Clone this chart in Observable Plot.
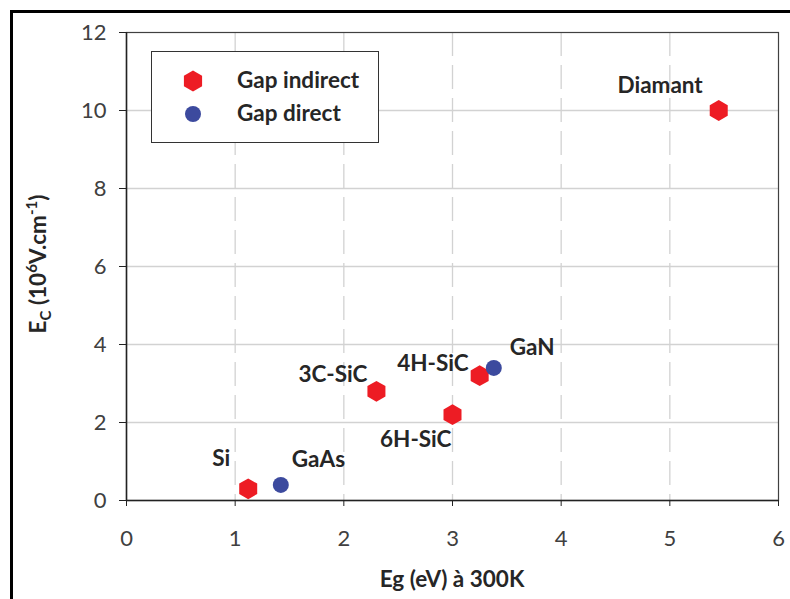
<!DOCTYPE html>
<html><head><meta charset="utf-8">
<script src="https://cdn.jsdelivr.net/npm/d3@7"></script>
<script src="https://cdn.jsdelivr.net/npm/@observablehq/plot@0.6"></script>
<style>
html,body{margin:0;padding:0;background:#fff;}
#wrap{position:relative;width:790px;height:599px;overflow:hidden;font-family:Lato,"Open Sans",sans-serif;}
#border{position:absolute;left:10px;top:10px;width:900px;height:900px;border:3.5px solid #000;box-sizing:border-box;}
#chart{position:absolute;left:0;top:0;}
#legend{position:absolute;left:151px;top:51px;width:228px;height:92px;border:1.3px solid #333;box-sizing:border-box;background:#fff;}
.li{position:absolute;left:0;width:226px;height:24px;font-weight:bold;font-size:22.5px;color:#262626;}
.li svg{position:absolute;left:29px;top:0;}
.li span{position:absolute;left:85px;top:-2px;white-space:nowrap;line-height:26px;}
#ylab{position:absolute;left:38px;top:264px;transform:translate(-50%,-50%) rotate(-90deg);font-weight:bold;font-size:22.5px;color:#262626;white-space:nowrap;}
#ylab sub,#ylab sup{font-size:15px;}
#xlab{position:absolute;left:452px;top:578px;transform:translate(-50%,-50%);font-weight:bold;font-size:22.5px;color:#262626;white-space:nowrap;}
</style></head>
<body><div id="wrap"><div id="border"></div><div id="chart"></div>
<div id="legend"></div>
<div id="ylab">E<sub>C</sub> (10<sup>6</sup>V.cm<sup>-1</sup>)</div>
<div id="xlab">Eg (eV) à 300K</div>
</div>
<script>
// Data
const materials = ["Si", "GaAs", "3C-SiC", "6H-SiC", "4H-SiC", "GaN", "Diamant"];
const gapEnergy = [1.12, 1.42, 2.3, 3.0, 3.25, 3.38, 5.45];
const criticalField = [0.3, 0.4, 2.8, 2.2, 3.2, 3.4, 10];
const gapType = ["indirect", "direct", "indirect", "indirect", "indirect", "direct", "indirect"];
const seriesNames = ["Gap indirect", "Gap direct"];
const xTicks = [0, 1, 2, 3, 4, 5, 6];
const yTicks = [0, 2, 4, 6, 8, 10, 12];

// Styles / layout
const RED = "#ED1C24", BLUE = "#3C4A9E";
const LABEL_SIZE = 22.5;
const labelStyle = {
  "Si": {dx: -27, dy: -30, anchor: "middle"},
  "GaAs": {dx: 11, dy: -25, anchor: "start"},
  "3C-SiC": {dx: -9, dy: -17, anchor: "end"},
  "6H-SiC": {dx: -1, dy: 25, anchor: "end"},
  "4H-SiC": {dx: -11, dy: -12, anchor: "end"},
  "GaN": {dx: 16, dy: -20, anchor: "start"},
  "Diamant": {dx: -16, dy: -25, anchor: "end"}
};

const rows = materials.map((m, i) => ({name: m, x: gapEnergy[i], y: criticalField[i], type: gapType[i]}));
const indirect = rows.filter(d => d.type === "indirect");
const direct = rows.filter(d => d.type === "direct");

const textMarks = rows.map(d => Plot.text([d], {
  x: "x", y: "y", text: "name",
  dx: labelStyle[d.name].dx, dy: labelStyle[d.name].dy,
  textAnchor: labelStyle[d.name].anchor,
  fontWeight: "bold", fontSize: LABEL_SIZE, fill: "#262626"
}));

const chart = Plot.plot({
  width: 790, height: 599,
  marginLeft: 126, marginRight: 12, marginTop: 32, marginBottom: 99,
  style: {fontFamily: "Lato, 'Open Sans', sans-serif", background: "transparent", overflow: "visible"},
  x: {domain: [0, 6], ticks: xTicks},
  y: {domain: [0, 12], ticks: yTicks},
  marks: [
    Plot.gridY(yTicks.slice(1, -1), {stroke: "#d2d2d2", strokeOpacity: 1, strokeWidth: 1.3}),
    Plot.gridX(xTicks.slice(1, -1), {stroke: "#d2d2d2", strokeOpacity: 1, strokeWidth: 1.3, strokeDasharray: "24,9"}),
    Plot.frame({stroke: "#404040", strokeWidth: 1.2}),
    Plot.ruleX([0], {stroke: "#222", strokeWidth: 1.5}),
    Plot.ruleY([0], {stroke: "#222", strokeWidth: 1.5}),
    Plot.axisX({ticks: xTicks, tickSize: 6, tickPadding: 24, fontSize: 22, color: "#404040", stroke: "#222", label: null, tickFormat: d => d}),
    Plot.axisY({ticks: yTicks, tickSize: 7, tickPadding: 13, fontSize: 22, color: "#404040", stroke: "#222", label: null, tickFormat: d => d}),
    Plot.dot(indirect, {x: "x", y: "y", symbol: "hexagon", r: 9, fill: RED, stroke: "none"}),
    Plot.dot(direct, {x: "x", y: "y", symbol: "circle", r: 8, fill: BLUE, stroke: "none"}),
    ...textMarks
  ]
});
document.getElementById("chart").appendChild(chart);

// Legend
const legend = document.getElementById("legend");
const legendColors = [RED, BLUE];
function hexPath(r) {
  const pts = d3.range(6).map(k => {
    const a = Math.PI / 2 + k * Math.PI / 3;
    return [r * Math.cos(a), r * Math.sin(a)];
  });
  return "M" + pts.map(p => p.join(",")).join("L") + "Z";
}
seriesNames.forEach((name, i) => {
  const item = document.createElement("div");
  item.className = "li";
  item.style.top = (i === 0 ? 17 : 50) + "px";
  const shape = i === 0
    ? `<path transform="translate(12,12)" d="${hexPath(10.5)}" fill="${legendColors[i]}"/>`
    : `<circle cx="12" cy="12" r="8" fill="${legendColors[i]}"/>`;
  item.innerHTML = `<svg width="24" height="24">${shape}</svg><span>${name}</span>`;
  legend.appendChild(item);
});
</script>
</body></html>
